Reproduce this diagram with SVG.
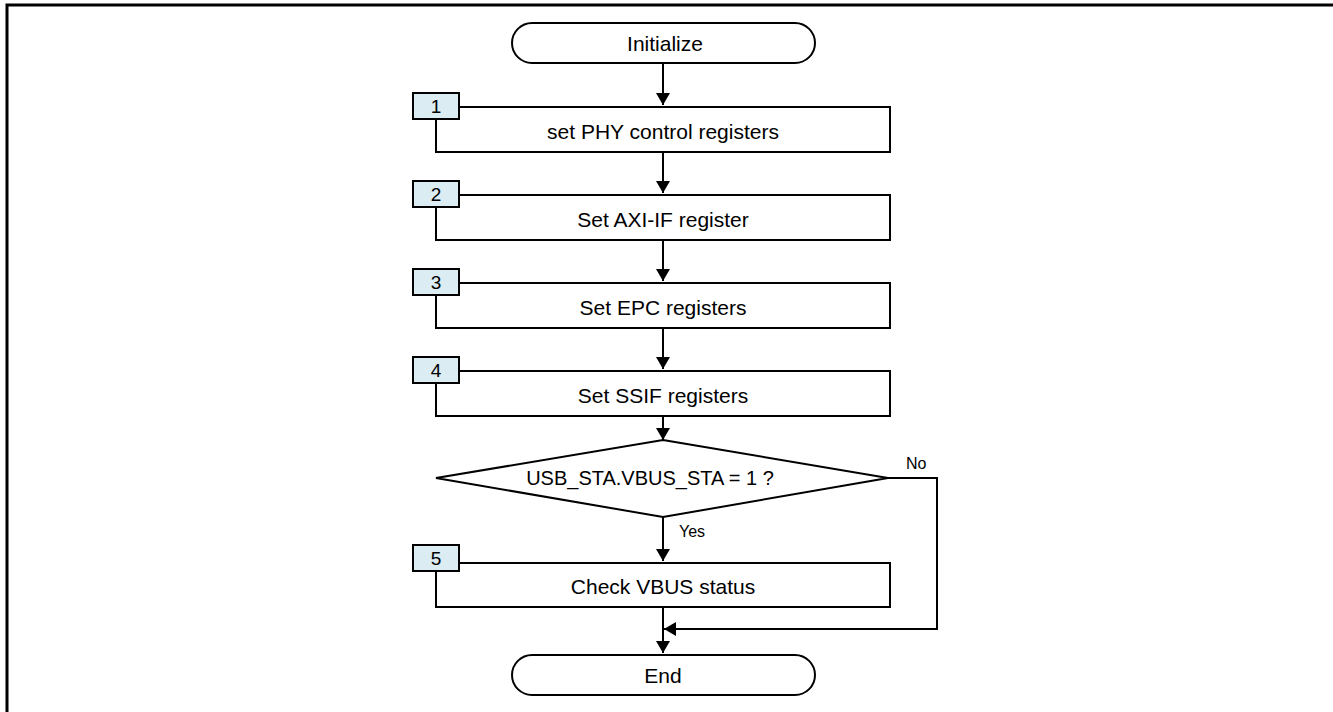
<svg xmlns="http://www.w3.org/2000/svg" width="1333" height="712" viewBox="0 0 1333 712">
<defs>
<marker id="ah" viewBox="0 0 12 14" refX="12" refY="7" markerWidth="12" markerHeight="14" markerUnits="userSpaceOnUse" orient="auto">
<path d="M0,0 L12,7 L0,14 Z" fill="#000"/>
</marker>
<style>
.shape{fill:#fff;stroke:#000;stroke-width:2}
.tag{fill:#dbecf2;stroke:#000;stroke-width:2}
.lbl{font-family:"Liberation Sans",Arial,sans-serif;font-size:21px;fill:#000;text-anchor:middle;dominant-baseline:central}
.num{font-family:"Liberation Sans",Arial,sans-serif;font-size:19px;fill:#000;text-anchor:middle;dominant-baseline:central}
.small{font-family:"Liberation Sans",Arial,sans-serif;font-size:16px;fill:#000}
.conn{fill:none;stroke:#000;stroke-width:2}
</style>
</defs>
<rect width="1333" height="712" fill="#fff"/>
<path d="M7,712 L7,5 L1333,5" fill="none" stroke="#000" stroke-width="3"/>

<g id="connectors">
<path class="conn" d="M663,63 L663,105" marker-end="url(#ah)"/>
<path class="conn" d="M663,152 L663,193" marker-end="url(#ah)"/>
<path class="conn" d="M663,240 L663,281" marker-end="url(#ah)"/>
<path class="conn" d="M663,328 L663,369" marker-end="url(#ah)"/>
<path class="conn" d="M663,416 L663,440" marker-end="url(#ah)"/>
<path class="conn" d="M663,517 L663,561" marker-end="url(#ah)"/>
<path class="conn" d="M663,607 L663,653" marker-end="url(#ah)"/>
<path class="conn" d="M888,478 L937,478 L937,629 L664,629" marker-end="url(#ah)"/>
<text class="small" x="906" y="469">No</text>
<text class="small" x="679" y="537">Yes</text>
</g>

<g id="start">
<rect class="shape" x="512" y="23" width="303" height="40" rx="20" ry="20"/>
<text class="lbl" x="665" y="43">Initialize</text>
</g>

<g id="step1">
<rect class="shape" x="436" y="107" width="454" height="45"/>
<text class="lbl" x="663" y="131">set PHY control registers</text>
<rect class="tag" x="413" y="93" width="46" height="26"/>
<text class="num" x="436" y="106">1</text>
</g>

<g id="step2">
<rect class="shape" x="436" y="195" width="454" height="45"/>
<text class="lbl" x="663" y="219">Set AXI-IF register</text>
<rect class="tag" x="413" y="181" width="46" height="26"/>
<text class="num" x="436" y="194">2</text>
</g>

<g id="step3">
<rect class="shape" x="436" y="283" width="454" height="45"/>
<text class="lbl" x="663" y="307">Set EPC registers</text>
<rect class="tag" x="413" y="269" width="46" height="26"/>
<text class="num" x="436" y="282">3</text>
</g>

<g id="step4">
<rect class="shape" x="436" y="371" width="454" height="45"/>
<text class="lbl" x="663" y="395">Set SSIF registers</text>
<rect class="tag" x="413" y="357" width="46" height="26"/>
<text class="num" x="436" y="370">4</text>
</g>

<g id="decision">
<polygon class="shape" points="663,440 888,478 663,517 436,478"/>
<text class="lbl" x="650" y="478" style="font-size:20px">USB_STA.VBUS_STA = 1 ?</text>
</g>

<g id="step5">
<rect class="shape" x="436" y="563" width="454" height="44"/>
<text class="lbl" x="663" y="586">Check VBUS status</text>
<rect class="tag" x="413" y="545" width="46" height="26"/>
<text class="num" x="436" y="558">5</text>
</g>

<g id="end">
<rect class="shape" x="512" y="655" width="303" height="40" rx="20" ry="20"/>
<text class="lbl" x="663" y="675">End</text>
</g>
</svg>
